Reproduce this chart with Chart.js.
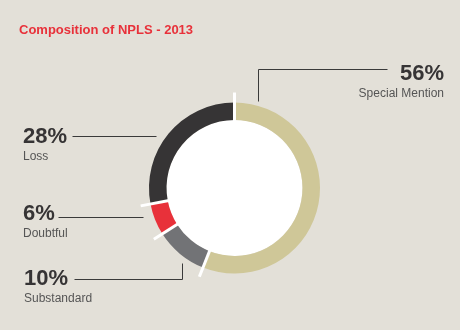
<!DOCTYPE html>
<html>
<head>
<meta charset="utf-8">
<script src="https://cdn.jsdelivr.net/npm/chart.js@4"></script>
<style>
  html, body { margin: 0; padding: 0; background: #e3e0d8; }
  #wrap { position: relative; width: 460px; height: 330px; }
  #title {
    position: absolute; left: 19px; top: 22px;
    font: bold 13px "Liberation Sans", Arial, sans-serif; color: #e8313a;
  }
</style>
</head>
<body>
<div id="wrap">
  <div id="title">Composition of NPLS - 2013</div>
  <canvas id="js-chart-npls" width="460" height="330"></canvas>
</div>
<script>
// Data
const categories = ["Special Mention", "Substandard", "Doubtful", "Loss"];
const shares = [56, 10, 6, 28];
const colors = ["#cfc798", "#727376", "#e8313a", "#363435"];

// Callout layout: text anchor, leader line path (canvas px)
const callouts = [
  { align: "right", x: 444, y: 80, path: [[387, 69], [258, 69], [258, 101]] },
  { align: "left", x: 24, y: 285, path: [[74, 279], [182, 279], [182, 263]] },
  { align: "left", x: 23, y: 220, path: [[58, 217], [143, 217]] },
  { align: "left", x: 23, y: 143, path: [[72, 136], [156, 136]] },
];

// Inner white disc + white separators poking out of the ring
const ringDecor = {
  id: "ringDecor",
  beforeDatasetsDraw(chart) {
    const arc = chart.getDatasetMeta(0).data[0];
    const ctx = chart.ctx;
    ctx.save();
    ctx.fillStyle = "#ffffff";
    ctx.beginPath();
    ctx.arc(arc.x, arc.y, arc.innerRadius, 0, Math.PI * 2);
    ctx.fill();
    ctx.restore();
  },
  afterDatasetsDraw(chart) {
    const meta = chart.getDatasetMeta(0);
    const ctx = chart.ctx;
    ctx.save();
    ctx.strokeStyle = "#ffffff";
    ctx.lineWidth = 3;
    meta.data.forEach((a) => {
      const ang = a.startAngle;
      const r0 = a.innerRadius - 4;
      const r1 = a.outerRadius + 10;
      ctx.beginPath();
      ctx.moveTo(a.x + Math.cos(ang) * r0, a.y + Math.sin(ang) * r0);
      ctx.lineTo(a.x + Math.cos(ang) * r1, a.y + Math.sin(ang) * r1);
      ctx.stroke();
    });
    ctx.restore();
  },
  afterDraw(chart) {
    const ctx = chart.ctx;
    ctx.save();
    ctx.strokeStyle = "#3a3a3a";
    ctx.lineWidth = 1;
    callouts.forEach((c, i) => {
      ctx.beginPath();
      c.path.forEach((p, j) => {
        const px = Math.round(p[0]) + 0.5, py = Math.round(p[1]) + 0.5;
        if (j === 0) ctx.moveTo(px, py); else ctx.lineTo(px, py);
      });
      ctx.stroke();

      ctx.textAlign = c.align;
      ctx.textBaseline = "alphabetic";
      ctx.fillStyle = "#363435";
      ctx.font = 'bold 22px "Liberation Sans", Arial, sans-serif';
      ctx.fillText(shares[i] + "%", c.x, c.y);
      ctx.fillStyle = "#555555";
      ctx.font = '12px "Liberation Sans", Arial, sans-serif';
      ctx.fillText(categories[i], c.x, c.y + 17);
    });
    ctx.restore();
  },
};

new Chart(document.getElementById("js-chart-npls"), {
  type: "doughnut",
  data: {
    labels: categories,
    datasets: [
      {
        data: shares,
        backgroundColor: colors,
        borderWidth: 0,
        hoverOffset: 0,
      },
    ],
  },
  options: {
    responsive: false,
    animation: false,
    cutout: "79.5%",
    layout: {
      padding: { left: 149, right: 140, top: 102.5, bottom: 56.5 },
    },
    plugins: {
      legend: { display: false },
      tooltip: { enabled: false },
    },
  },
  plugins: [ringDecor],
});
</script>
</body>
</html>
